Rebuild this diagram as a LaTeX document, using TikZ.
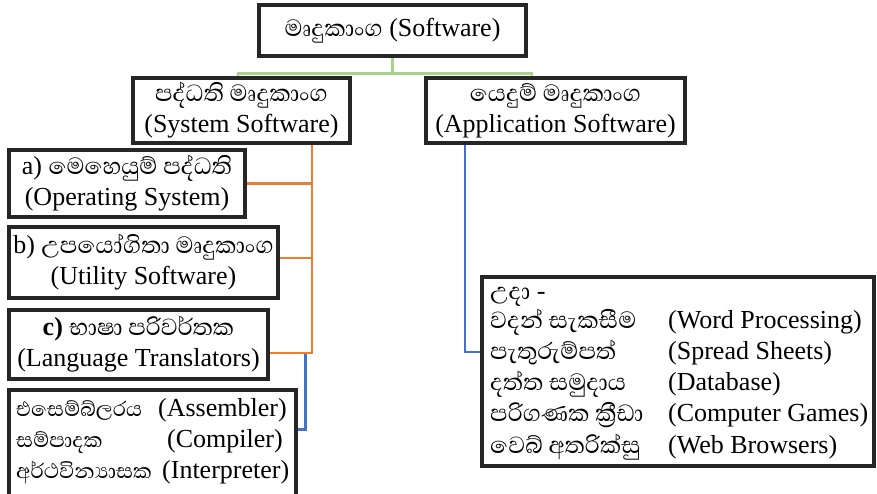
\documentclass[tikz,border=0pt]{standalone}
\usepackage{fontspec}
\setmainfont{Liberation Serif}
\newfontfamily\si[Script=Sinhala,Scale=1.15]{Abhaya Libre}
\definecolor{gcol}{HTML}{A9D18E}
\definecolor{ocol}{HTML}{ED7D31}
\definecolor{bcol}{HTML}{4472C4}
\definecolor{kcol}{HTML}{262626}
\begin{document}
\begin{tikzpicture}[x=1pt,y=-1pt,
  box/.style={draw=kcol, line width=3.2pt, inner sep=0pt, align=center, font=\fontsize{26}{31}\selectfont},
  txt/.style={inner sep=0pt, anchor=base west, font=\fontsize{26}{31}\selectfont},
  stxt/.style={inner sep=0pt, anchor=base west, font=\fontsize{23}{31}\selectfont},
  gline/.style={draw=gcol, line width=2.8pt},
  oline/.style={draw=ocol, line width=2.8pt},
  bline/.style={draw=bcol, line width=2.8pt}]
\useasboundingbox (0,0) rectangle (877,493);
\fill[white] (0,0) rectangle (877,493);

\node[box, minimum width=267pt, minimum height=51pt] (top) at (392.5,30.5) {{\si මෘදුකාංග} (Software)};
\node[box, minimum width=217pt, minimum height=65pt] (sys) at (241.5,110.5) {{\si පද්ධති මෘදුකාංග}\\(System Software)};
\node[box, minimum width=259pt, minimum height=65pt] (app) at (555.5,110.5) {{\si යෙදුම් මෘදුකාංග}\\(Application Software)};
\node[box, minimum width=236pt, minimum height=67pt] (a) at (127,183.5) {a) {\si මෙහෙයුම් පද්ධති}\\(Operating System)};
\node[box, minimum width=269pt, minimum height=71pt] (b) at (143.5,262.5) {b) {\si උපයෝගිතා මෘදුකාංග}\\(Utility Software)};
\node[box, minimum width=259pt, minimum height=69pt] (c) at (138.5,344.5) {\textbf{c)} {\si භාෂා පරිවර්තක}\\(Language Translators)};
\node[box, minimum width=287pt, minimum height=107pt] (asm) at (152.5,443.5) {};
\node[box, minimum width=392pt, minimum height=189pt] (ex) at (678,371.5) {};

% list in the translator box
\node[stxt] (s1) at (16,416) {\si එසෙම්බ්ලරය};
\node[txt] (t1) at (158,416) {(Assembler)};
\node[stxt] (s2) at (16,447) {\si සම්පාදක};
\node[txt] (t2) at (167,447) {(Compiler)};
\node[stxt] (s3) at (16,478) {\si අර්ථවින්‍යාසක};
\node[txt] (t3) at (162,478) {(Interpreter)};

% examples box
\node[txt] (e0) at (490,299) {{\si උදා} -};
\node[txt] (e1) at (490,328) {\si වදන් සැකසීම};
\node[txt] (f1) at (668,328) {(Word Processing)};
\node[txt] (e2) at (490,359) {\si පැතුරුම්පත්};
\node[txt] (f2) at (668,359) {(Spread Sheets)};
\node[txt] (e3) at (490,390) {\si දත්ත සමුදාය};
\node[txt] (f3) at (668,390) {(Database)};
\node[txt] (e4) at (490,421) {\si පරිගණක ක්‍රීඩා};
\node[txt] (f4) at (668,421) {(Computer Games)};
\node[txt] (e5) at (490,453) {\si වෙබ් අතරික්සු};
\node[txt] (f5) at (668,453) {(Web Browsers)};

% connectors
\draw[gline] (top.south) -- ++(0,16) coordinate (gm);
\draw[gline] ([xshift=-3.5pt]sys.north) |- (gm) -| ([xshift=-23.5pt]app.north);

\draw[bline] ([xshift=-90.5pt]app.south) |- ([yshift=19.5pt]ex.west);
\draw[bline] ([xshift=35.5pt,yshift=-8.5pt]c.east) |- ([yshift=-41pt]asm.north east);

\draw[oline] ([xshift=70.5pt]sys.south) coordinate (os) |- ([yshift=-8.5pt]c.east);
\draw[oline] (a.east) -- (a.east -| os);
\draw[oline] ([yshift=4.5pt]b.east) -- ([yshift=4.5pt]b.east -| os);
\end{tikzpicture}
\end{document}
